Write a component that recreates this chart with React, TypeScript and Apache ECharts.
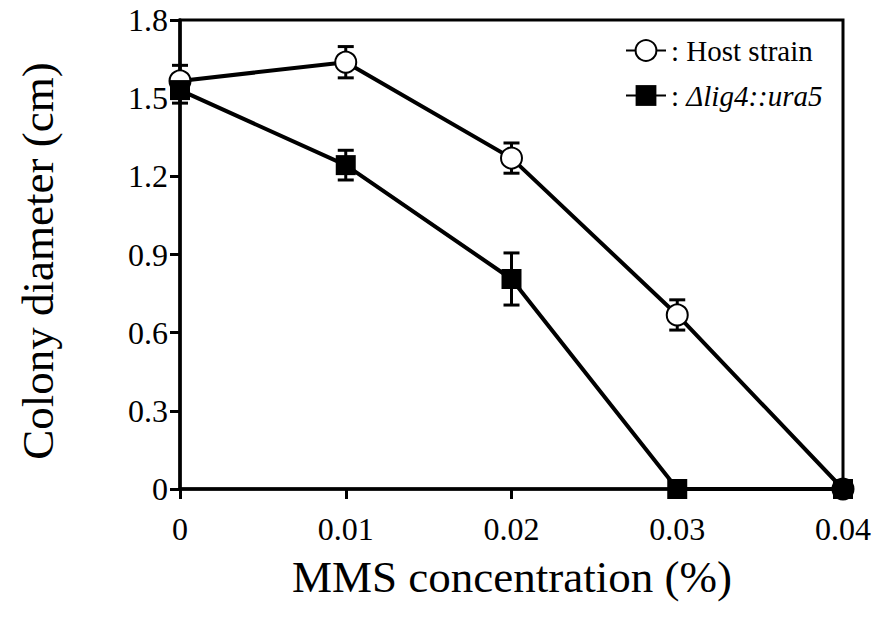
import React, { useEffect, useRef } from "react";
import * as echarts from "echarts";

const concentrations = [0, 0.01, 0.02, 0.03, 0.04];
const hostValues = [1.566, 1.638, 1.27, 0.668, 0];
const hostErrors = [0.06, 0.06, 0.058, 0.058, 0];
const mutantValues = [1.531, 1.243, 0.806, 0, 0];
const mutantErrors = [0.05, 0.057, 0.1, 0, 0];
const xTickLabels = ["0", "0.01", "0.02", "0.03", "0.04"];
const yTickLabels = ["0", "0.3", "0.6", "0.9", "1.2", "1.5", "1.8"];
const hostName = "Host strain";
const mutantName = "\u0394lig4::ura5";
const xTitle = "MMS concentration (%)";
const yTitle = "Colony diameter (cm)";

const FONT = "'Liberation Serif', 'Times New Roman', serif";

function errorSeries(values: number[], errors: number[], z: number) {
  const data = concentrations.map((x, i) => [x, values[i], errors[i]]);
  return {
    type: "custom",
    z,
    silent: true,
    data,
    renderItem: (params: any, api: any) => {
      const x = api.value(0);
      const y = api.value(1);
      const e = api.value(2);
      if (!e) return null;
      const top = api.coord([x, y + e]);
      const bot = api.coord([x, y - e]);
      const hw = 8;
      const style = { stroke: "#000", lineWidth: 3 };
      return {
        type: "group",
        children: [
          { type: "line", shape: { x1: top[0], y1: top[1], x2: bot[0], y2: bot[1] }, style },
          { type: "line", shape: { x1: top[0] - hw, y1: top[1], x2: top[0] + hw, y2: top[1] }, style },
          { type: "line", shape: { x1: bot[0] - hw, y1: bot[1], x2: bot[0] + hw, y2: bot[1] }, style },
        ],
      };
    },
  };
}

export default function App() {
  const ref = useRef<HTMLDivElement>(null);
  useEffect(() => {
    document.body.style.margin = "0";
    if (!ref.current) return;
    const chart = echarts.init(ref.current, undefined, { renderer: "svg" });
    const option: any = {
      animation: false,
      backgroundColor: "#fff",
      grid: {
        left: 180,
        right: 31,
        top: 20,
        bottom: 141,
        show: true,
        borderColor: "#000",
        borderWidth: 3,
        backgroundColor: "transparent",
      },
      legend: {
        orient: "vertical",
        left: 625,
        top: 36,
        padding: 0,
        itemWidth: 40,
        itemHeight: 26,
        itemGap: 16,
        selectedMode: false,
        data: [hostName, mutantName],
        formatter: (name: string) =>
          name === mutantName ? "{n|: }{i|" + name + "}" : ": " + name,
        textStyle: {
          fontFamily: FONT,
          fontSize: 29,
          color: "#000",
          rich: {
            n: { fontFamily: FONT, fontSize: 29, color: "#000" },
            i: { fontFamily: FONT, fontSize: 29, color: "#000", fontStyle: "italic" },
          },
        },
      },
      xAxis: {
        type: "value",
        min: 0,
        max: 0.04,
        interval: 0.01,
        axisLine: { show: true, lineStyle: { color: "#000", width: 3.5 } },
        axisTick: { show: true, length: 10, lineStyle: { color: "#000", width: 3 } },
        splitLine: { show: false },
        axisLabel: {
          margin: 24,
          fontFamily: FONT,
          fontSize: 32,
          color: "#000",
          formatter: (v: number) => xTickLabels[Math.round(v / 0.01)] ?? "",
        },
      },
      yAxis: {
        type: "value",
        min: 0,
        max: 1.8,
        interval: 0.3,
        axisLine: { show: true, lineStyle: { color: "#000", width: 3.5 } },
        axisTick: { show: true, length: 10, lineStyle: { color: "#000", width: 3 } },
        splitLine: { show: false },
        axisLabel: {
          margin: 12,
          fontFamily: FONT,
          fontSize: 32,
          color: "#000",
          formatter: (v: number) => yTickLabels[Math.round(v / 0.3)] ?? "",
        },
      },
      graphic: [
        {
          type: "text",
          x: 512,
          y: 577,
          style: {
            text: xTitle,
            fontFamily: FONT,
            fontSize: 45,
            fill: "#000",
            align: "center",
            verticalAlign: "middle",
          },
        },
        {
          type: "text",
          x: 38,
          y: 261,
          rotation: Math.PI / 2,
          style: {
            text: yTitle,
            fontFamily: FONT,
            fontSize: 45,
            fill: "#000",
            align: "center",
            verticalAlign: "middle",
          },
        },
      ],
      series: [
        errorSeries(hostValues, hostErrors, 1),
        errorSeries(mutantValues, mutantErrors, 1),
        {
          name: hostName,
          type: "line",
          z: 3,
          data: concentrations.map((x, i) => [x, hostValues[i]]),
          symbol: "emptyCircle",
          symbolSize: 21,
          lineStyle: { color: "#000", width: 4 },
          itemStyle: { color: "#000", borderWidth: 2.5 },
        },
        {
          name: mutantName,
          type: "line",
          z: 4,
          data: concentrations.map((x, i) => [x, mutantValues[i]]),
          symbol: "rect",
          symbolSize: 20,
          lineStyle: { color: "#000", width: 4 },
          itemStyle: { color: "#000" },
        },
      ],
    };
    chart.setOption(option);
    return () => chart.dispose();
  }, []);
  return <div ref={ref} style={{ width: 874, height: 630 }} />;
}
